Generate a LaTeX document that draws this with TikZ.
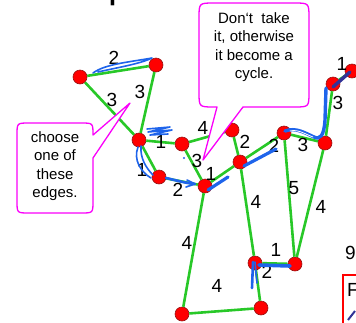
\documentclass[tikz,border=0pt]{standalone}
\usepackage{fontspec}
\setmainfont{Liberation Sans}
\definecolor{edgegreen}{RGB}{40,200,40}
\definecolor{hlblue}{RGB}{30,100,235}
\definecolor{navyhl}{RGB}{50,50,150}
\definecolor{callmag}{RGB}{250,0,250}
\definecolor{vtxred}{RGB}{255,0,0}
\begin{document}
\begin{tikzpicture}[x=1pt,y=-1pt,
  vtx/.style={circle,fill=vtxred,draw={rgb,255:red,150;green,20;blue,20},line width=0.6pt,inner sep=0pt,minimum size=14pt},
  edge/.style={draw=edgegreen,line width=2.6pt},
  lbl/.style={font=\fontsize{19}{19}\selectfont,inner sep=0pt},
  hl/.style={draw=hlblue,line width=2.6pt,line cap=round,line join=round},
  hlthin/.style={draw=hlblue,line width=1.6pt,line cap=round,line join=round},
  callout/.style={draw=callmag,fill=white,line width=1.3pt,line join=round},
  ctext/.style={font=\fontsize{15}{18.5}\selectfont,align=center,inner sep=0pt}]
\useasboundingbox (0,0) rectangle (356,322);
\begin{scope}
\clip (0,0) rectangle (356,322);
% partial title glyph at the top
\node[anchor=base west,font=\fontsize{40}{40}\selectfont,inner sep=0pt] (title) at (108,-3) {p};
% vertices
\node[vtx] (A) at (80,77) {};
\node[vtx] (B) at (156,65) {};
\node[vtx] (C) at (139,140) {};
\node[vtx] (D) at (182,144) {};
\node[vtx] (E) at (232,130) {};
\node[vtx] (F) at (159,177) {};
\node[vtx] (G) at (205,186) {};
\node[vtx] (H) at (240,162) {};
\node[vtx] (I) at (284,133) {};
\node[vtx] (J) at (325,143) {};
\node[vtx] (K) at (333,84) {};
\node[vtx] (L) at (352,71) {};
\node[vtx] (M) at (255,263) {};
\node[vtx] (N) at (295,264) {};
\node[vtx] (O) at (182,314) {};
\node[vtx] (P) at (261,308) {};
% edges
\path[edge] (A) -- (B);
\path[edge] (A) -- (C);
\path[edge] (B) -- (C);
\path[edge] (C) -- (D);
\path[edge] (C) -- (F);
\path[edge] (D) -- (E);
\path[edge] (D) -- (G);
\path[edge] (F) -- (G);
\path[edge] (G) -- (H);
\path[edge] (E) -- (H);
\path[edge] (H) -- (I);
\path[edge] (I) -- (J);
\path[edge] (J) -- (K);
\path[edge] (K) -- (L);
\path[edge] (I) -- (N);
\path[edge] (J) -- (N);
\path[edge] (H) -- (M);
\path[edge] (M) -- (N);
\path[edge] (M) -- (P);
\path[edge] (O) -- (P);
\path[edge] (G) -- (O);
% edge labels
\node[lbl] (lAB) at (114,58) {2};
\node[lbl] (lAC) at (112,100) {3};
\node[lbl] (lBC) at (140,92) {3};
\node[lbl] (lCD) at (161,142) {1};
\node[lbl] (lCF) at (142,170) {1};
\node[lbl] (lDE) at (203,128) {4};
\node[lbl] (lDG) at (197,161) {3};
\node[lbl] (lFG) at (178,190) {2};
\node[lbl] (lGH) at (211,174) {1};
\node[lbl] (lEH) at (245,142) {2};
\node[lbl] (lHI) at (274,146) {2};
\node[lbl] (lIJ) at (303,145) {3};
\node[lbl] (lJK) at (338,103) {3};
\node[lbl] (lKL) at (342,64) {1};
\node[lbl] (lIN) at (294,188) {5};
\node[lbl] (lJN) at (321,207) {4};
\node[lbl] (lHM) at (256,202) {4};
\node[lbl] (lMN) at (276,250) {1};
\node[lbl] (lMP) at (267,272) {2};
\node[lbl] (lOP) at (217,286) {4};
\node[lbl] (lGO) at (187,243) {4};
% hand-drawn highlights
\draw[hlthin] (93,73) .. controls (105,64) and (130,62) .. (152,58) .. controls (140,64) and (115,68) .. (98,72);
\draw[hlthin] (147,129) -- (170,127) -- (148,132) -- (172,130) -- (150,135) -- (168,134);
\draw[hlthin] (138,147) .. controls (133,160) and (141,172) .. (151,178);
\draw[hlthin] (141,146) .. controls (140,158) and (146,168) .. (153,175);
\draw[hl] (166,178) .. controls (175,180) and (185,183) .. (195,184);
\draw[hlthin] (187,180) -- (195,184) -- (186,187);
\fill[hlblue] (184,158) circle (1.2);
\draw[hl,line width=3.2pt] (208,190) -- (228,177);
\draw[hl,line width=3.2pt] (244,166) -- (276,149);
\draw[hl,line width=3.4pt] (285,131) .. controls (296,127) and (305,133) .. (314,137) .. controls (320,140) and (324,136) .. (325,120) -- (326,88);
\draw[white,line width=0.8pt,line cap=round] (290,131) .. controls (298,129) and (305,134) .. (313,137);
\draw[navyhl,line width=3.4pt,line cap=round] (333,87) -- (350,72);
\draw[hl,line width=3.6pt] (259,265) -- (290,266);
\draw[hl] (252,288) -- (253,262);
\draw[hlthin] (257,283) -- (255,262);
% callout 1
\path[callout] (29,123) -- (81,123) .. controls (93,123) .. (93,135) -- (130,103) -- (93,158) -- (93,201) .. controls (93,213) .. (81,213) -- (29,213) .. controls (17,213) .. (17,201) -- (17,135) .. controls (17,123) .. (29,123) -- cycle;
\node[ctext] (t1) at (55,166) {choose\\one of\\these\\edges.};
% callout 2
\path[callout] (214,3) -- (294,3) .. controls (309,3) .. (309,18) -- (309,92) .. controls (309,107) .. (294,107) -- (243,107) -- (203,160) -- (217,107) -- (214,107) .. controls (199,107) .. (199,92) -- (199,18) .. controls (199,3) .. (214,3) -- cycle;
\node[ctext] (t2) at (254,47) {Don‘t\ \ take\\it, otherwise\\it become a\\cycle.};
% partial slide elements at the right edge
\node[lbl,anchor=west] (nine) at (345,253) {9};
\draw[red,line width=2.4pt] (343,275) rectangle (380,340);
\node[lbl,anchor=west] (eff) at (347,290) {F};
\draw[navyhl,line width=2pt] (348,320) -- (355,311);
\end{scope}
\end{tikzpicture}
\end{document}
